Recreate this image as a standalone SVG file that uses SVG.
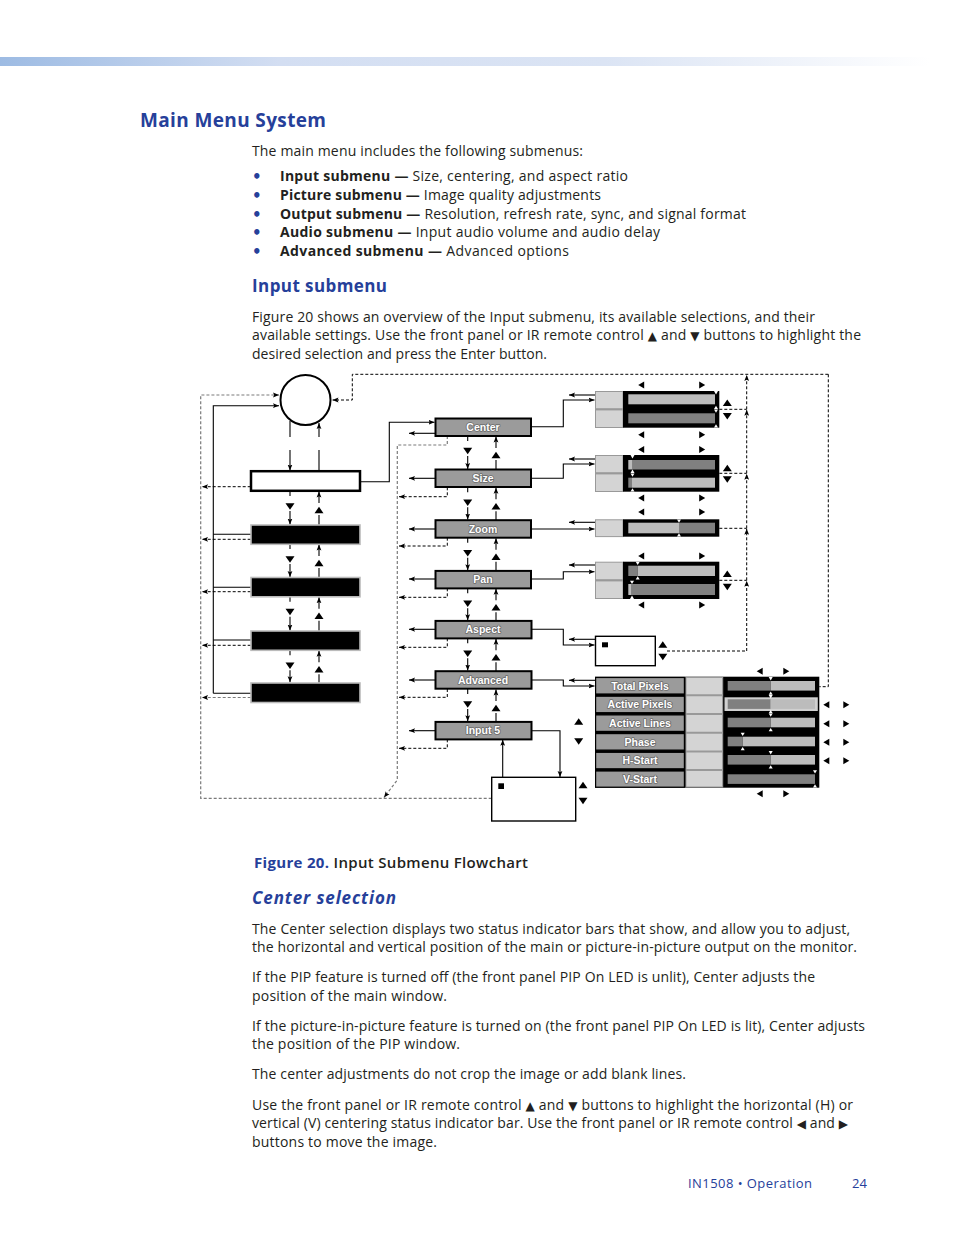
<svg xmlns="http://www.w3.org/2000/svg" width="954" height="1235" viewBox="0 0 954 1235">
<style>
.bd{font-family:"Open Sans","Noto Sans","Liberation Sans",sans-serif;font-size:14px;fill:#231f20}
.b{font-weight:bold}
.bl{fill:#26409a}
.bul{font-family:"DejaVu Sans",sans-serif;font-weight:bold;font-size:15px;fill:#26409a}
.h1{font-family:"Open Sans","Noto Sans",sans-serif;font-size:19px;font-weight:bold;fill:#26409a}
.h2{font-family:"Open Sans","Noto Sans",sans-serif;font-size:17px;font-weight:bold;fill:#26409a}
.sym{font-family:"DejaVu Sans",sans-serif;font-size:12px}
.ml{font-family:"Liberation Sans",Arial,sans-serif;font-weight:700;font-size:10.5px;fill:#fff;stroke:#6a6a6a;stroke-width:1.6;paint-order:stroke;stroke-linejoin:round;text-anchor:middle}
.s{fill:none;stroke:#000;stroke-width:1.1}
.d{fill:none;stroke:#000;stroke-width:1;stroke-dasharray:3 2}
.g{fill:none;stroke:#7a7a7a;stroke-width:1.2;stroke-dasharray:3 2}
.mb{fill:#9b9b9b;stroke:#000;stroke-width:2}
.cell{fill:#d4d4d4;stroke:#999;stroke-width:1}
.lt{fill:#bcbcbc}
.dk{fill:#808080}
</style>
<defs>
<linearGradient id="hg" x1="0" y1="0" x2="1" y2="0">
<stop offset="0" stop-color="#9dbbe3"/>
<stop offset="0.3" stop-color="#d3def2"/>
<stop offset="0.65" stop-color="#dbe4f4"/>
<stop offset="1" stop-color="#ffffff"/>
</linearGradient>
<marker id="ah" viewBox="0 0 10 10" refX="10" refY="5" markerWidth="6" markerHeight="6" markerUnits="userSpaceOnUse" orient="auto">
<path d="M0,1 L10,5 L0,9 L2,5 Z" fill="#000"/>
</marker>
<path id="tu" d="M-4.5,3.2 L4.5,3.2 L0,-3.2 Z" fill="#000"/>
<path id="td" d="M-4.5,-3.2 L4.5,-3.2 L0,3.2 Z" fill="#000"/>
<path id="tl" d="M3,-3.5 L3,3.5 L-3,0 Z" fill="#000"/>
<path id="tr" d="M-3,-3.5 L-3,3.5 L3,0 Z" fill="#000"/>
<path id="wu" d="M-2,1.5 L2,1.5 L0,-1.8 Z" fill="#fff"/>
<path id="wd" d="M-2,-1.5 L2,-1.5 L0,1.8 Z" fill="#fff"/>
</defs>

<rect x="0" y="57" width="930" height="9" fill="url(#hg)"/>

<text class="h1" x="140" y="127" textLength="186">Main Menu System</text>
<text class="bd" x="252" y="156" textLength="331">The main menu includes the following submenus:</text>
<g class="bul"><text x="252" y="181.5">•</text><text x="252" y="200.5">•</text><text x="252" y="219.5">•</text><text x="252" y="237.5">•</text><text x="252" y="256.5">•</text></g>
<text class="bd" x="280" y="181" textLength="348"><tspan class="b">Input submenu —</tspan> Size, centering, and aspect ratio</text>
<text class="bd" x="280" y="200" textLength="321"><tspan class="b">Picture submenu —</tspan> Image quality adjustments</text>
<text class="bd" x="280" y="219" textLength="466"><tspan class="b">Output submenu —</tspan> Resolution, refresh rate, sync, and signal format</text>
<text class="bd" x="280" y="237" textLength="380"><tspan class="b">Audio submenu —</tspan> Input audio volume and audio delay</text>
<text class="bd" x="280" y="256" textLength="289"><tspan class="b">Advanced submenu —</tspan> Advanced options</text>
<text class="h2" x="252" y="292" textLength="135">Input submenu</text>
<text class="bd" x="252" y="322" textLength="563">Figure 20 shows an overview of the Input submenu, its available selections, and their</text>
<text class="bd" x="252" y="340" textLength="609">available settings. Use the front panel or IR remote control <tspan class="sym">▲</tspan> and <tspan class="sym">▼</tspan> buttons to highlight the</text>
<text class="bd" x="252" y="359" textLength="295">desired selection and press the Enter button.</text>

<!-- connectors -->
<g id="connectors">
<path class="d" d="M828.3,374.3 H352.3 V400 H332.5" marker-end="url(#ah)"/>
<path class="g" d="M491.7,798.3 H200.7 V395 H279" marker-end="url(#ah)"/>
<path class="s" d="M213.3,693.3 V405.7 H279" marker-end="url(#ah)"/>
<path class="s" d="M290,421 V437"/>
<path class="s" d="M290,450 V470.5" marker-end="url(#ah)"/>
<path class="s" d="M319,437 V423" marker-end="url(#ah)"/>
<path class="s" d="M319,450 V471"/>
<path class="s" d="M213.3,534.3 H251 M213.3,587.3 H251 M213.3,640 H251 M213.3,693.3 H251"/>
<path class="d" d="M250.7,486.7 H202" marker-end="url(#ah)"/>
<path class="d" d="M250.7,539.3 H202" marker-end="url(#ah)"/>
<path class="d" d="M250.7,591.7 H202" marker-end="url(#ah)"/>
<path class="d" d="M250.7,645.3 H202" marker-end="url(#ah)"/>
<path class="g" d="M250.7,697.5 H202" marker-end="url(#ah)"/>
<!-- left column gaps -->
<path class="s" d="M290,491 V496 M290,544 V549 M290,596.7 V601.7 M290,650.3 V655.3"/>
<path class="s" d="M290,511 V524.5" marker-end="url(#ah)"/>
<path class="s" d="M290,564 V577" marker-end="url(#ah)"/>
<path class="s" d="M290,616.7 V630.5" marker-end="url(#ah)"/>
<path class="s" d="M290,670.3 V682.2" marker-end="url(#ah)"/>
<path class="s" d="M319,503 V491.5" marker-end="url(#ah)"/>
<path class="s" d="M319,556 V544.5" marker-end="url(#ah)"/>
<path class="s" d="M319,608.7 V597.2" marker-end="url(#ah)"/>
<path class="s" d="M319,662.3 V650.8" marker-end="url(#ah)"/>
<path class="s" d="M319,515 V525 M319,568 V577.3 M319,620.7 V631 M319,674.3 V682.7"/>
<use href="#td" x="290" y="506.5"/><use href="#td" x="290" y="559.5"/><use href="#td" x="290" y="612"/><use href="#td" x="290" y="665.8"/>
<use href="#tu" x="319" y="510"/><use href="#tu" x="319" y="563"/><use href="#tu" x="319" y="615.7"/><use href="#tu" x="319" y="669.3"/>
<!-- to center -->
<path class="s" d="M360.3,481.7 H389.3 V422.3 H434.5" marker-end="url(#ah)"/>
<!-- menu left arrows -->
<path class="s" d="M435,433.3 H409" marker-end="url(#ah)"/>
<path class="s" d="M435,478.3 H409" marker-end="url(#ah)"/>
<path class="s" d="M435,529 H409" marker-end="url(#ah)"/>
<path class="s" d="M435,579 H409" marker-end="url(#ah)"/>
<path class="s" d="M435,629.3 H409" marker-end="url(#ah)"/>
<path class="s" d="M435,680 H409" marker-end="url(#ah)"/>
<path class="s" d="M435,730.7 H409" marker-end="url(#ah)"/>
<!-- returns -->
<path class="g" d="M447.3,436 V445 H397.3 V780 L384,797.5" marker-end="url(#ah)"/>
<path class="d" d="M447.3,487.3 V496.7 H399" marker-end="url(#ah)"/>
<path class="d" d="M447.3,537.7 V546 H399" marker-end="url(#ah)"/>
<path class="d" d="M447.3,588.3 V597.3 H399" marker-end="url(#ah)"/>
<path class="d" d="M447.3,638.3 V647.3 H399" marker-end="url(#ah)"/>
<path class="d" d="M447.3,689 V697.3 H399" marker-end="url(#ah)"/>
<path class="d" d="M447.3,739.3 V748.3 H399" marker-end="url(#ah)"/>
<!-- middle gaps -->
<path class="s" d="M467.7,436 V441 M467.7,487.3 V492.3 M467.7,537.7 V542.7 M467.7,588.3 V593.3 M467.7,638.3 V643.3 M467.7,689 V694"/>
<path class="s" d="M467.7,456 V469" marker-end="url(#ah)"/>
<path class="s" d="M467.7,507.3 V519.5" marker-end="url(#ah)"/>
<path class="s" d="M467.7,557.7 V570.2" marker-end="url(#ah)"/>
<path class="s" d="M467.7,608.3 V620.2" marker-end="url(#ah)"/>
<path class="s" d="M467.7,658.3 V670.5" marker-end="url(#ah)"/>
<path class="s" d="M467.7,709 V721.2" marker-end="url(#ah)"/>
<path class="s" d="M496,448 V436.5" marker-end="url(#ah)"/>
<path class="s" d="M496,499.3 V487.8" marker-end="url(#ah)"/>
<path class="s" d="M496,549.7 V538.2" marker-end="url(#ah)"/>
<path class="s" d="M496,600.3 V588.8" marker-end="url(#ah)"/>
<path class="s" d="M496,650.3 V638.8" marker-end="url(#ah)"/>
<path class="s" d="M496,701 V689.5" marker-end="url(#ah)"/>
<path class="s" d="M496,460 V469.3 M496,511.3 V520 M496,561.7 V570.7 M496,612.3 V620.7 M496,662.3 V671 M496,713 V721.7"/>
<use href="#td" x="467.7" y="451"/><use href="#td" x="467.7" y="502.8"/><use href="#td" x="467.7" y="553.2"/><use href="#td" x="467.7" y="603.8"/><use href="#td" x="467.7" y="653.8"/><use href="#td" x="467.7" y="704.5"/>
<use href="#tu" x="496" y="455"/><use href="#tu" x="496" y="506.3"/><use href="#tu" x="496" y="556.7"/><use href="#tu" x="496" y="607.3"/><use href="#tu" x="496" y="657.3"/><use href="#tu" x="496" y="708"/>
<!-- right connections -->
<path class="s" d="M531,426.7 H563.3 V400 H594.5" marker-end="url(#ah)"/>
<path class="s" d="M595,395 H569" marker-end="url(#ah)"/>
<path class="s" d="M531,478.3 H563.3 V464 H594.5" marker-end="url(#ah)"/>
<path class="s" d="M595,459 H569" marker-end="url(#ah)"/>
<path class="s" d="M531,529 H594.5" marker-end="url(#ah)"/>
<path class="s" d="M595,522.3 H569" marker-end="url(#ah)"/>
<path class="s" d="M531,579 H563.3 V571.7 H594.5" marker-end="url(#ah)"/>
<path class="s" d="M595,565 H569" marker-end="url(#ah)"/>
<path class="s" d="M531,629.3 H563.3 V645 H594.5" marker-end="url(#ah)"/>
<path class="s" d="M595,639.3 H569" marker-end="url(#ah)"/>
<path class="s" d="M531,680 H563.3 V686 H594.5" marker-end="url(#ah)"/>
<path class="s" d="M595,680.3 H569" marker-end="url(#ah)"/>
<path class="s" d="M531.7,730.7 H560 V777" marker-end="url(#ah)"/>
<path class="s" d="M502.7,777.3 V739.8" marker-end="url(#ah)"/>
<!-- right dashed -->
<path class="d" d="M719.3,409.3 H746.7 M719.3,473.3 H746.7 M719.3,528.3 H746.7 M719.3,580.3 H746.7 M667,651 H746.7"/>
<path class="d" d="M746.7,651 V580.8" marker-end="url(#ah)"/>
<path class="d" d="M746.7,580.3 V528.8" marker-end="url(#ah)"/>
<path class="d" d="M746.7,528.3 V473.8" marker-end="url(#ah)"/>
<path class="d" d="M746.7,473.3 V409.8" marker-end="url(#ah)"/>
<path class="d" d="M746.7,409.3 V375" marker-end="url(#ah)"/>
<path class="d" d="M828.3,374.3 V686.7 H819.3"/>
</g>

<!-- main menu column -->
<g id="main-circle"><circle cx="305.5" cy="400" r="25" fill="#fff" stroke="#000" stroke-width="2"/></g>
<g id="main-box1"><rect x="251" y="471.2" width="109" height="19.6" fill="#fff" stroke="#000" stroke-width="2.5"/></g>
<g id="main-box2"><rect x="251" y="525" width="109" height="19.3" fill="#000" stroke="#bbb" stroke-width="1.6"/></g>
<g id="main-box3"><rect x="251" y="577.5" width="109" height="19.3" fill="#000" stroke="#bbb" stroke-width="1.6"/></g>
<g id="main-box4"><rect x="251" y="631" width="109" height="19.3" fill="#000" stroke="#bbb" stroke-width="1.6"/></g>
<g id="main-box5"><rect x="251" y="683" width="109" height="19.5" fill="#000" stroke="#bbb" stroke-width="1.6"/></g>

<!-- input submenu items -->
<g id="m-center"><rect class="mb" x="435.5" y="418.5" width="95.5" height="17.5"/><text class="ml" x="483" y="431">Center</text></g>
<g id="m-size"><rect class="mb" x="435.5" y="469.5" width="95.5" height="17.5"/><text class="ml" x="483" y="482">Size</text></g>
<g id="m-zoom"><rect class="mb" x="435.5" y="520.2" width="95.5" height="17.5"/><text class="ml" x="483" y="532.7">Zoom</text></g>
<g id="m-pan"><rect class="mb" x="435.5" y="570.9" width="95.5" height="17.5"/><text class="ml" x="483" y="583.4">Pan</text></g>
<g id="m-aspect"><rect class="mb" x="435.5" y="620.9" width="96" height="17.5"/><text class="ml" x="483" y="633.4">Aspect</text></g>
<g id="m-advanced"><rect class="mb" x="435.5" y="671.2" width="96" height="17.5"/><text class="ml" x="483" y="683.7">Advanced</text></g>
<g id="m-input5"><rect class="mb" x="435.5" y="721.9" width="96" height="17.5"/><text class="ml" x="483" y="734.4">Input 5</text></g>

<g id="input5-box">
<rect x="491.7" y="777.3" width="84" height="43.7" fill="#fff" stroke="#000" stroke-width="1.4"/>
<rect x="498.3" y="783.3" width="5.7" height="5.7" fill="#000"/>
<use href="#tu" x="583" y="785"/><use href="#td" x="583" y="801"/>
</g>

<!-- Center display -->
<g id="d-center">
<rect class="cell" x="595.5" y="391.5" width="27.5" height="36"/>
<line x1="595.5" y1="409.3" x2="623" y2="409.3" stroke="#999" stroke-width="2.2"/>
<rect x="623" y="391" width="96.3" height="36.7" fill="#000"/>
<rect class="lt" x="628.3" y="394.3" width="86.7" height="10"/>
<rect class="dk" x="628.3" y="413.3" width="86.7" height="10"/>
<use href="#wd" x="716" y="392.6"/><use href="#wu" x="716" y="407.6"/><use href="#wd" x="716" y="411"/><use href="#wu" x="716" y="426"/>
<use href="#tl" x="641.2" y="385"/><use href="#tr" x="702.2" y="385"/>
<use href="#tl" x="641.2" y="434.7"/><use href="#tr" x="702.2" y="434.7"/>
<use href="#tu" x="727.3" y="402.8"/><use href="#td" x="727.3" y="416.2"/>
</g>

<!-- Size display -->
<g id="d-size">
<rect class="cell" x="595.5" y="455.5" width="27.5" height="36"/>
<line x1="595.5" y1="473.3" x2="623" y2="473.3" stroke="#999" stroke-width="2.2"/>
<rect x="623" y="455" width="96.3" height="36.7" fill="#000"/>
<rect class="lt" x="628.3" y="460" width="4.4" height="9.5"/>
<rect class="dk" x="632.7" y="460" width="82.3" height="9.5"/>
<rect class="dk" x="628.3" y="477.7" width="3.7" height="10"/>
<rect class="lt" x="632" y="477.7" width="83" height="10"/>
<use href="#wd" x="632.5" y="456.6"/><use href="#wu" x="632.5" y="471.4"/><use href="#wd" x="632.5" y="475"/><use href="#wu" x="632.5" y="490"/>
<use href="#tl" x="641.2" y="449.5"/><use href="#tr" x="702.2" y="449.5"/>
<use href="#tl" x="641.2" y="498"/><use href="#tr" x="702.2" y="498"/>
<use href="#tu" x="727.3" y="468"/><use href="#td" x="727.3" y="479.5"/>
</g>

<!-- Zoom display -->
<g id="d-zoom">
<rect class="cell" x="595.5" y="519.8" width="27.5" height="16.8"/>
<rect x="623" y="519.3" width="96.3" height="17.4" fill="#000"/>
<rect class="lt" x="628.3" y="522.7" width="50.7" height="10.6"/>
<rect class="dk" x="679" y="522.7" width="36" height="10.6"/>
<use href="#wd" x="679" y="520.9"/><use href="#wu" x="679" y="535.1"/>
<use href="#tl" x="641.2" y="512"/><use href="#tr" x="702.2" y="512"/>
</g>

<!-- Pan display -->
<g id="d-pan">
<rect class="cell" x="595.5" y="562.2" width="27.5" height="36.3"/>
<line x1="595.5" y1="580.3" x2="623" y2="580.3" stroke="#999" stroke-width="2.2"/>
<rect x="623" y="561.7" width="96.3" height="37.3" fill="#000"/>
<rect class="dk" x="628.3" y="565.7" width="9.4" height="10.3"/>
<rect class="lt" x="637.7" y="565.7" width="77.3" height="10.3"/>
<rect class="lt" x="628.3" y="584" width="3.4" height="11"/>
<rect class="dk" x="631.7" y="584" width="83.3" height="11"/>
<use href="#wd" x="637.7" y="563.3"/><use href="#wu" x="637.7" y="578"/><use href="#wd" x="632" y="582.2"/><use href="#wu" x="632" y="597.4"/>
<use href="#tl" x="641.2" y="556"/><use href="#tr" x="702.2" y="556"/>
<use href="#tl" x="641.2" y="605"/><use href="#tr" x="702.2" y="605"/>
<use href="#tu" x="727.3" y="573.7"/><use href="#td" x="727.3" y="587"/>
</g>

<!-- Aspect display -->
<g id="d-aspect">
<rect x="595.5" y="636.3" width="59.8" height="29.4" fill="#fff" stroke="#000" stroke-width="1.4"/>
<rect x="602" y="642.3" width="6" height="5" fill="#000"/>
<use href="#tu" x="662.8" y="644.5"/><use href="#td" x="662.8" y="657"/>
</g>

<!-- Advanced table -->
<g id="d-advanced">
<rect x="595" y="676.7" width="224.3" height="111" fill="#000"/>
<rect class="cell" x="686" y="677.5" width="36.7" height="109.5"/>
<path d="M686,695.3 H722.7 M686,714 H722.7 M686,732.7 H722.7 M686,751.4 H722.7 M686,770.1 H722.7" stroke="#999" stroke-width="2"/>
<g fill="#9b9b9b" stroke="#000" stroke-width="1.2">
<rect x="595.6" y="677.5" width="88.8" height="16.5"/>
<rect x="595.6" y="696.2" width="88.8" height="16.5"/>
<rect x="595.6" y="714.9" width="88.8" height="16.5"/>
<rect x="595.6" y="733.6" width="88.8" height="16.5"/>
<rect x="595.6" y="752.3" width="88.8" height="16.5"/>
<rect x="595.6" y="771" width="88.8" height="16.2"/>
</g>
<text class="ml" x="640" y="689.5">Total Pixels</text>
<text class="ml" x="640" y="708.2">Active Pixels</text>
<text class="ml" x="640" y="726.9">Active Lines</text>
<text class="ml" x="640" y="745.6">Phase</text>
<text class="ml" x="640" y="764.3">H-Start</text>
<text class="ml" x="640" y="782.8">V-Start</text>
<rect x="724.5" y="697.3" width="93.3" height="13.7" fill="#d0d0d0"/>
<rect class="dk" x="727.7" y="681" width="43" height="9.6"/><rect class="lt" x="770.7" y="681" width="44.3" height="9.6"/>
<rect class="dk" x="727.7" y="699.3" width="43" height="9.6"/><rect class="lt" x="770.7" y="699.3" width="44.3" height="9.6"/>
<rect class="dk" x="727.7" y="717.7" width="43" height="9.6"/><rect class="lt" x="770.7" y="717.7" width="44.3" height="9.6"/>
<rect class="dk" x="727.7" y="736.7" width="15" height="9.6"/><rect class="lt" x="742.7" y="736.7" width="72.3" height="9.6"/>
<rect class="dk" x="727.7" y="755" width="43" height="9.6"/><rect class="lt" x="770.7" y="755" width="44.3" height="9.6"/>
<rect class="dk" x="727.7" y="774.3" width="87.3" height="9.6"/>
<use href="#wd" x="770.7" y="678.6"/><use href="#wu" x="770.7" y="693.2"/><use href="#wd" x="770.7" y="696.6"/><use href="#wu" x="770.7" y="711.8"/><use href="#wd" x="770.7" y="715"/><use href="#wu" x="770.7" y="729.8"/>
<use href="#wd" x="742.7" y="734.2"/><use href="#wu" x="742.7" y="748.8"/>
<use href="#wd" x="770.7" y="752.6"/><use href="#wu" x="770.7" y="767"/>
<use href="#wd" x="815" y="771.8"/><use href="#wu" x="815" y="786"/>
<use href="#tl" x="759.7" y="671.3"/><use href="#tr" x="786.3" y="671.3"/>
<use href="#tl" x="759.7" y="793.8"/><use href="#tr" x="786.3" y="793.8"/>
<use href="#tl" x="826.3" y="704.7"/><use href="#tr" x="846.3" y="704.7"/>
<use href="#tl" x="826.3" y="723.7"/><use href="#tr" x="846.3" y="723.7"/>
<use href="#tl" x="826.3" y="742.2"/><use href="#tr" x="846.3" y="742.2"/>
<use href="#tl" x="826.3" y="760.7"/><use href="#tr" x="846.3" y="760.7"/>
<use href="#tu" x="578.7" y="721.5"/><use href="#td" x="578.7" y="741.5"/>
</g>

<text class="bd" x="254" y="868" style="font-size:15px" textLength="274"><tspan class="b bl">Figure 20.</tspan> <tspan style="font-weight:600">Input Submenu Flowchart</tspan></text>
<text class="h2" x="252" y="904" font-style="italic" textLength="144">Center selection</text>
<text class="bd" x="252" y="934" textLength="598">The Center selection displays two status indicator bars that show, and allow you to adjust,</text>
<text class="bd" x="252" y="952" textLength="605">the horizontal and vertical position of the main or picture-in-picture output on the monitor.</text>
<text class="bd" x="252" y="982" textLength="563">If the PIP feature is turned off (the front panel PIP On LED is unlit), Center adjusts the</text>
<text class="bd" x="252" y="1001" textLength="195">position of the main window.</text>
<text class="bd" x="252" y="1031" textLength="613">If the picture-in-picture feature is turned on (the front panel PIP On LED is lit), Center adjusts</text>
<text class="bd" x="252" y="1049" textLength="208">the position of the PIP window.</text>
<text class="bd" x="252" y="1079" textLength="434">The center adjustments do not crop the image or add blank lines.</text>
<text class="bd" x="252" y="1110" textLength="601">Use the front panel or IR remote control <tspan class="sym">▲</tspan> and <tspan class="sym">▼</tspan> buttons to highlight the horizontal (H) or</text>
<text class="bd" x="252" y="1128" textLength="596">vertical (V) centering status indicator bar. Use the front panel or IR remote control <tspan class="sym">◀</tspan> and <tspan class="sym">▶</tspan></text>
<text class="bd" x="252" y="1147" textLength="185">buttons to move the image.</text>
<text class="bd bl" x="688" y="1188" style="font-size:13px" textLength="124">IN1508 • Operation</text>
<text class="bd bl" x="852" y="1188" style="font-size:13px">24</text>
</svg>
